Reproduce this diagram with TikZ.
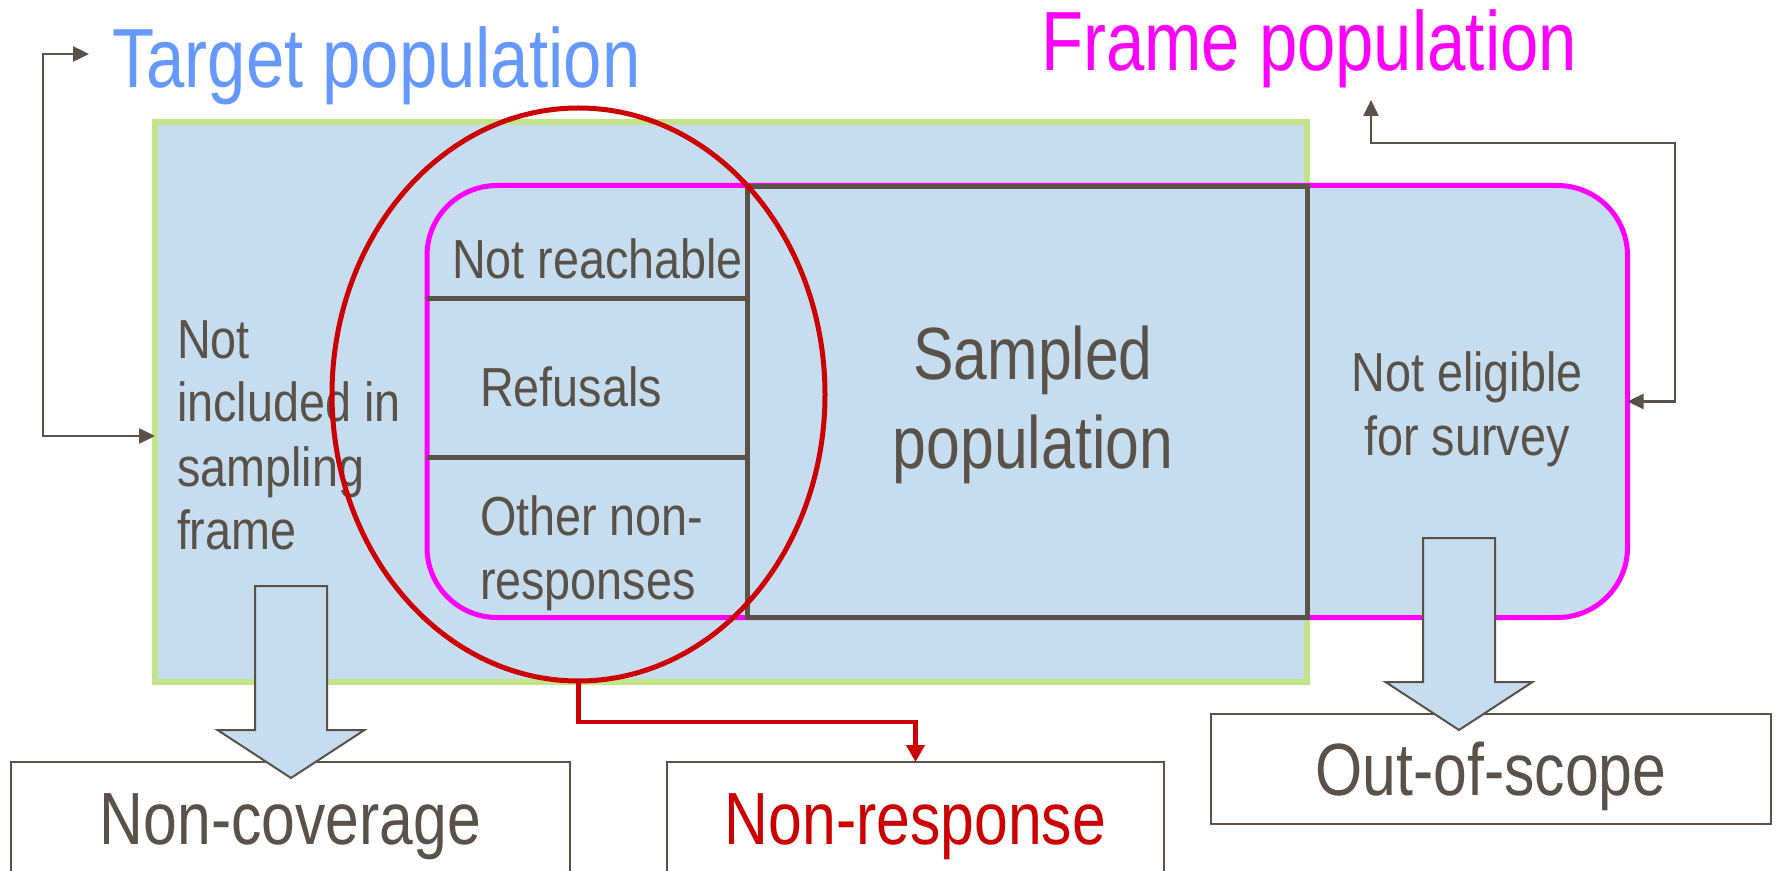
\documentclass[tikz,border=0pt]{standalone}
\usepackage{fontspec}
\setmainfont{Liberation Sans}[FakeStretch=0.82]
\newfontfamily\cellfont{Liberation Sans}[FakeStretch=0.85]
\usetikzlibrary{arrows.meta,shapes.geometric,calc}

\definecolor{fillblue}{HTML}{C6DCEF}
\definecolor{framegreen}{HTML}{C4E48A}
\definecolor{inkgray}{HTML}{5A5249}
\definecolor{errred}{HTML}{CC0000}
\definecolor{titleblue}{HTML}{6699FF}
\definecolor{framemag}{HTML}{FF00FF}

\tikzset{
  region/.style={rectangle, inner sep=0pt, outer sep=0pt},
  cellText/.style={inner sep=0pt, outer sep=0pt, text=inkgray,
    font=\cellfont\fontsize{27.5}{32}\selectfont},
  heading/.style={inner sep=0pt, outer sep=0pt, font=\fontsize{42}{50}\selectfont},
  outcome/.style={draw=inkgray, line width=1pt, fill=white, inner sep=0pt,
    outer sep=0pt, minimum height=56pt, text height=26.5pt, text depth=0pt,
    text=inkgray, font=\fontsize{37}{44}\selectfont, anchor=north},
  conn/.style={draw=inkgray, line width=1.2pt,
    {Triangle[length=8pt,width=7.5pt]}-{Triangle[length=8pt,width=7.5pt]}},
  blockdown/.pic={
    \draw[draw=inkgray, line width=1pt, fill=fillblue, line join=miter]
      (-36,-192) -- (36,-192) -- (36,-48) -- (73.5,-48) -- (0,0)
      -- (-73.5,-48) -- (-36,-48) -- cycle;
  }
}

\begin{document}
\begin{tikzpicture}[x=0.5pt,y=-0.5pt]
\useasboundingbox (0,0) rectangle (1778,871);

% target population: the large outer region
\node[region, draw=framegreen, line width=3pt, fill=fillblue,
      minimum width=575.75pt, minimum height=279.75pt] (target) at (730.75,401.75) {};

% frame population: rounded region
\node[region, draw=framemag, line width=2.5pt, fill=fillblue, rounded corners=35pt,
      minimum width=600.25pt, minimum height=216pt] (frame) at (1027.25,401.5) {};

% sampled population
\node[region, draw=inkgray, line width=2.5pt,
      minimum width=280pt, minimum height=215.5pt] (sampled) at (1027,402) {};

% non-response sub-divisions
\draw[inkgray, line width=2.5pt] (frame.west |- 0,298.3) -- (sampled.west |- 0,298.3);
\draw[inkgray, line width=2.5pt] (frame.west |- 0,458) -- (sampled.west |- 0,458);

% titles
\node[heading, text=titleblue, anchor=base west] (tp) at (112,88) {Target population};
\node[heading, text=framemag, anchor=base west] (fp) at (1041,71) {Frame population};

% region texts (multi-line nodes are anchored on their last baseline)
\node[cellText, anchor=base west, align=left] (notinc) at (177,550)
  {Not\\included in\\sampling\\frame};
\node[cellText, anchor=base west] (notreach) at (452,279) {Not reachable};
\node[cellText, anchor=base west] (refusals) at (480,407) {Refusals};
\node[cellText, anchor=base west, align=left] (othernr) at (480,599)
  {Other non-\\responses};
\node[cellText, anchor=base, align=center] (noteligible) at (1467,456)
  {Not eligible\\for survey};
\node[inner sep=0pt, text=inkgray, font=\fontsize{37}{44.5}\selectfont,
      anchor=base, align=center] (sampledtxt) at (1033,469) {Sampled\\population};

% non-response ellipse
\node[ellipse, draw=errred, line width=2.5pt, inner sep=0pt, outer sep=0pt,
      minimum width=246.5pt, minimum height=286.5pt] (nonresp) at (578.5,394.5) {};

% outcome boxes
\node[outcome, minimum width=279.5pt] (ncbox) at (290.5,762) {Non-coverage};
\node[outcome, minimum width=248.5pt, text=errred] (nrbox) at (915.5,762) {Non-response};
\node[outcome, minimum width=280pt, minimum height=55pt] (oosbox) at (1491,714) {Out-of-scope};

% block arrows into the outcome boxes
\pic at ($(ncbox.north)+(0.5,16)$) {blockdown};
\pic at ($(oosbox.north)+(-32,16)$) {blockdown};

% connectors
\coordinate (tpin) at (89,54);
\coordinate (fpin) at (1371,100);
\coordinate (rbend) at (1675,143);
\draw[conn] (tpin) -- ++(-46,0) |- ($(target.west)+(0,34.25)$);
\draw[conn] (fpin) |- (rbend) |- (frame.east);
\draw[errred, line width=2.4pt, -{Triangle[length=8.5pt,width=9pt]}]
  (nonresp.south) -- ++(0,41) -| (nrbox.north);
\end{tikzpicture}
\end{document}
